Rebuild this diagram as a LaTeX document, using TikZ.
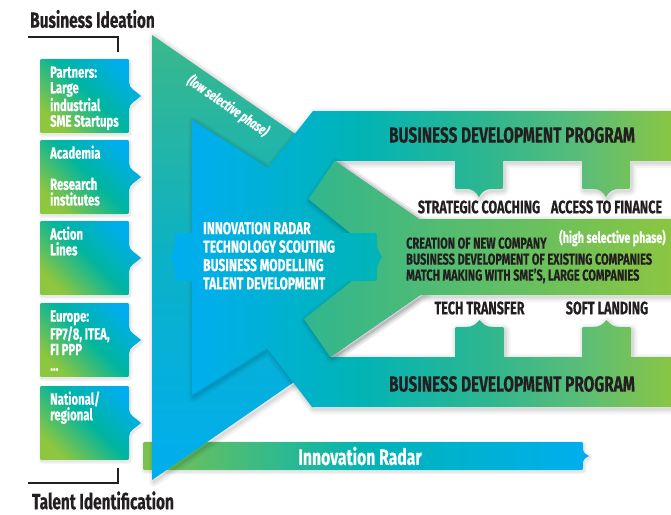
\documentclass[tikz,border=0pt]{standalone}
\usepackage{fontspec}
\newfontfamily\cf{Fira Sans}[FakeStretch=0.70, FakeBold=0.4]
\definecolor{cBlue}{HTML}{00AEEF}
\definecolor{cTeal}{HTML}{00B4B6}
\definecolor{cTealB}{HTML}{00B59E}
\definecolor{cGT}{HTML}{2DB690}
\definecolor{cGM}{HTML}{5BBD78}
\definecolor{cGreen}{HTML}{8DC63F}
\definecolor{cTopG}{HTML}{3AB88A}
\definecolor{cMidG}{HTML}{0BB1C6}
\definecolor{cMl}{HTML}{30B68E}
\definecolor{cRG}{HTML}{7CC24E}
\definecolor{cDark}{HTML}{231F20}
\pgfdeclarehorizontalshading{tshade}{100bp}{color(0bp)=(cBlue); color(25bp)=(cBlue); color(42bp)=(cTeal); color(55bp)=(cGT); color(65bp)=(cGM); color(75bp)=(cGreen); color(100bp)=(cGreen)}
\newcommand\fstrut{\rule{0pt}{0.85em}}
\def\pathG{(152,35) -- (474.5,257.5) -- (152,480) -- cycle}
\def\pathT{(192,120) -- (268,168) -- (313,111) -- (680,111) -- (680,161)
  -- (630,161) -- (630,185) .. controls (630,189) .. (626,189) -- (619,189)
  .. controls (612,189) and (609,192) .. (606,197) .. controls (603,192) and (600,189) .. (593,189)
  -- (586,189) .. controls (582,189) .. (582,185) -- (582,161)
  -- (503,161) -- (503,185) .. controls (503,189) .. (499,189) -- (492,189)
  .. controls (485,189) and (482,192) .. (479,197) .. controls (476,192) and (473,189) .. (466,189)
  -- (459,189) .. controls (455,189) .. (455,185) -- (455,161)
  -- (334.6,161) -- (400,258) -- (330.3,357)
  -- (455,357) -- (455,331) .. controls (455,327) .. (459,327) -- (466,327)
  .. controls (473,327) and (476,324) .. (479.5,320) .. controls (483,324) and (486,327) .. (493,327)
  -- (500,327) .. controls (504,327) .. (504,331) -- (504,357)
  -- (582,357) -- (582,331) .. controls (582,327) .. (586,327) -- (593,327)
  .. controls (600,327) and (603,324) .. (606.5,320) .. controls (610,324) and (613,327) .. (620,327)
  -- (627,327) .. controls (631,327) .. (631,331) -- (631,357)
  -- (680,357) -- (680,407) -- (312,407) -- (267,348) -- (192,395) -- cycle}
\def\pathM{(334.6,161) -- (418.7,219) -- (680,219) -- (680,295) -- (420.1,295)
  -- (330.3,357) -- (304,319) -- (381,258) -- (308.5,199) -- cycle}
\def\pathR{(147,442) -- (579,442) .. controls (583,442) .. (583,446) -- (583,450)
  .. controls (584,453) .. (589,456) .. controls (584,459) .. (583,462)
  -- (583,466) .. controls (583,470) .. (579,470) -- (147,470)
  .. controls (143,470) .. (143,466) -- (143,446) .. controls (143,442) .. (147,442) -- cycle}
\def\pathB{(4,0) -- (85,0) .. controls (89,0) .. (89,4) -- (89,23)
      .. controls (89,30) and (96,32) .. (101,37) .. controls (96,42) and (89,44) .. (89,51)
      -- (89,70) .. controls (89,74) .. (85,74) -- (4,74) .. controls (0,74) .. (0,70)
      -- (0,4) .. controls (0,0) .. (4,0) -- cycle}
\tikzset{
  halo/.style={draw=black, draw opacity=#1, line join=round},
  boxfill/.style={top color=cBlue, bottom color=cGreen, middle color=cTealB, shading angle=-45},
  lboxp/.pic={
    \path[halo=0.04, line width=5pt, shift={(1,1.5)}] \pathB;
    \path[halo=0.05, line width=2pt, shift={(1,1.5)}] \pathB;
    \path[boxfill] \pathB;
  },
  bdp/.style={font=\cf\bfseries\fontsize{22}{24}\selectfont, text=cDark, inner sep=0pt},
  sub/.style={font=\cf\bfseries\fontsize{18}{20}\selectfont, text=cDark, inner sep=0pt},
  midtxt/.style={font=\cf\bfseries\fontsize{15.7}{16}\selectfont, text=cDark, inner sep=0pt, align=left, anchor=north west},
  innertxt/.style={font=\cf\bfseries\fontsize{17.3}{18.4}\selectfont, text=white, inner sep=0pt, align=left, anchor=north west},
  lbl/.style={font=\cf\bfseries\fontsize{16.2}{15.6}\selectfont, text=white, inner sep=0pt, align=left, anchor=north west},
  ttl/.style={font=\cf\bfseries\fontsize{22}{24}\selectfont, text=cDark, inner sep=0pt},
  bracket/.style={draw=cDark, line width=1.2pt},
}
\begin{document}
\begin{tikzpicture}[x=1pt,y=-1pt]
\useasboundingbox (0,0) rectangle (671,514);

% Innovation radar bar
\begin{scope}[shift={(1,1.5)}]
  \path[halo=0.05, line width=5pt] \pathR;
  \path[halo=0.05, line width=2pt] \pathR;
\end{scope}
\path[left color=cRG, right color=cBlue, middle color=cTeal] \pathR;

% left big triangle
\begin{scope}[shift={(2,2)}]
  \path[halo=0.04, line width=10pt] \pathG;
  \path[halo=0.05, line width=6pt] \pathG;
  \path[halo=0.06, line width=2.5pt] \pathG;
\end{scope}
\path[top color=cTopG, bottom color=cBlue, middle color=cMidG] \pathG;

% inner shape with top and bottom bars
\begin{scope}[shift={(1.5,2)}]
  \path[halo=0.04, line width=10pt] \pathT;
  \path[halo=0.05, line width=6pt] \pathT;
  \path[halo=0.06, line width=2.5pt] \pathT;
\end{scope}
\path[shading=tshade] \pathT;

% middle bar with arms
\begin{scope}[shift={(1.5,2)}]
  \path[halo=0.04, line width=10pt] \pathM;
  \path[halo=0.05, line width=6pt] \pathM;
  \path[halo=0.06, line width=2.5pt] \pathM;
\end{scope}
\path[left color=cMl, right color=cGreen] \pathM;

% inner tab
\path[left color=cBlue, right color=cTeal]
  (179,233) -- (373,233) .. controls (377,233) .. (377,237) -- (377,245)
  .. controls (378,250) .. (382,257) .. controls (378,264) .. (377,269)
  -- (377,277) .. controls (377,281) .. (373,281) -- (179,281)
  .. controls (175,281) .. (175,277) -- (175,269) .. controls (174,264) .. (170,257)
  .. controls (174,250) .. (175,245) -- (175,237) .. controls (175,233) .. (179,233) -- cycle;

% texts on the right structure
\node[bdp] (bdp1) at (512,135) {BUSINESS DEVELOPMENT PROGRAM};
\node[bdp] (bdp2) at (512,384) {BUSINESS DEVELOPMENT PROGRAM};
\node[sub] (sc) at (479,207) {STRATEGIC COACHING};
\node[sub] (af) at (606.5,207) {ACCESS TO FINANCE};
\node[sub] (tt) at (479.5,308) {TECH TRANSFER};
\node[sub] (sl) at (607,308) {SOFT LANDING};
\node[midtxt] (mid) at (406,235) {\fstrut CREATION OF NEW COMPANY\\BUSINESS DEVELOPMENT OF EXISTING COMPANIES\\MATCH MAKING WITH SME’S, LARGE COMPANIES};
\node[font=\cf\bfseries\fontsize{15.3}{16}\selectfont, text=white, inner sep=0pt, anchor=west] (high) at (559,238) {(high selective phase)};
\node[innertxt] (inner) at (203,219.3) {\fstrut INNOVATION RADAR\\TECHNOLOGY SCOUTING\\BUSINESS MODELLING\\TALENT DEVELOPMENT};
\node[font=\cf\bfseries\itshape\fontsize{14.5}{15}\selectfont, text=white, inner sep=0pt, rotate=-34.6] (low) at (228,106) {(low selective phase)};
\node[font=\cf\bfseries\fontsize{22.5}{24}\selectfont, text=white, inner sep=0pt] (ir) at (360,456) {Innovation Radar};

% left boxes
\pic at (40,59) {lboxp};
\pic at (40,140) {lboxp};
\pic at (40,221) {lboxp};
\pic at (40,303) {lboxp};
\pic at (40,386) {lboxp};
\node[lbl] (b1) at (50,63.7) {\fstrut Partners:\\Large\\industrial\\SME Startups};
\node[lbl] (b2) at (50,144.7) {\fstrut Academia\\[15.6pt]Research\\institutes};
\node[lbl] (b3) at (50,225.7) {\fstrut Action\\Lines};
\node[lbl] (b4) at (50,307.7) {\fstrut Europe:\\FP7/8, ITEA,\\FI PPP\\\ldots};
\node[lbl] (b5) at (50,390.7) {\fstrut National/\\regional};

% titles and brackets
\node[ttl] (bi) at (92.5,19) {Business Ideation};
\node[ttl] (ti) at (103,500.5) {Talent Identification};
\coordinate (bra) at (28,37);
\coordinate (brb) at (118,37);
\coordinate (brc) at (118,52);
\draw[bracket] (bra) -- (brb) -- (brc);
\coordinate (bta) at (28,483);
\coordinate (btb) at (118,483);
\coordinate (btc) at (118,468);
\draw[bracket] (bta) -- (btb) -- (btc);
\end{tikzpicture}
\end{document}
